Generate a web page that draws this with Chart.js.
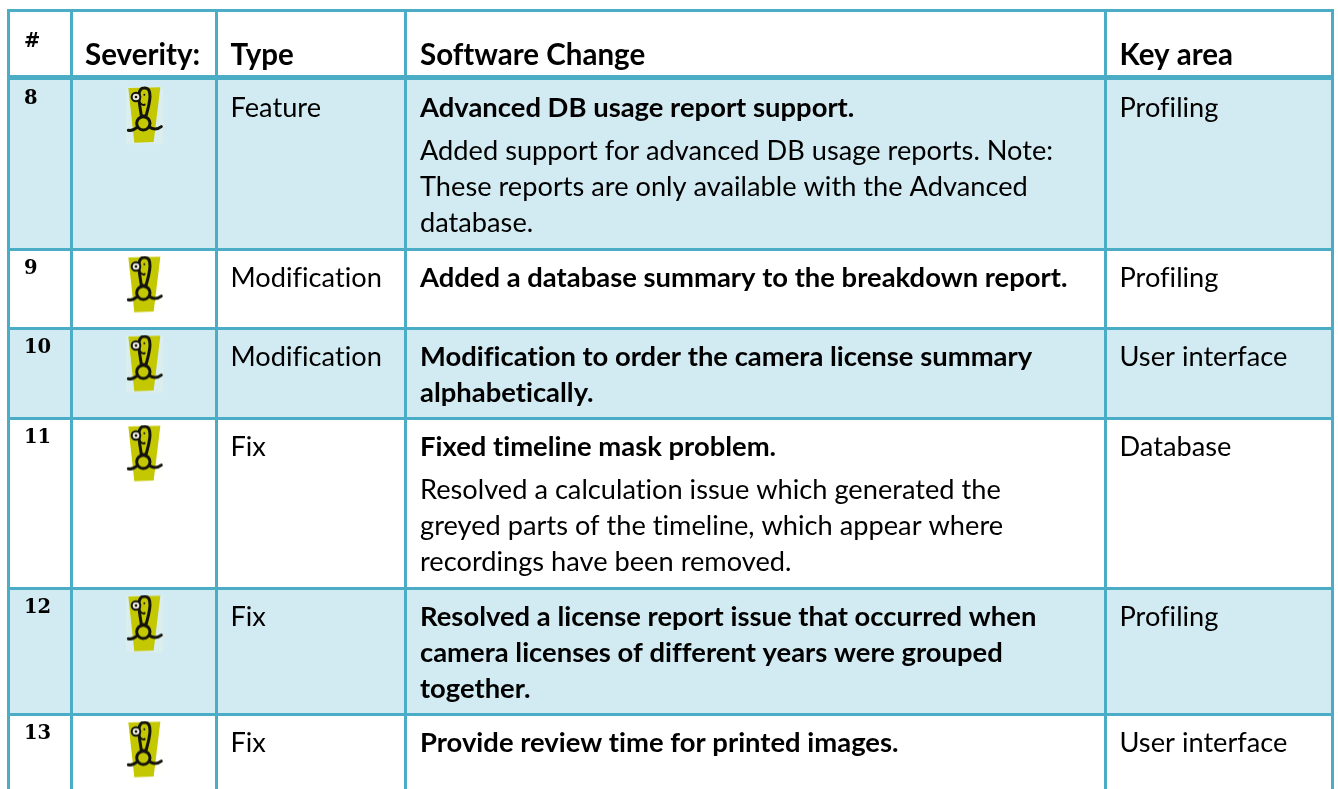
<!DOCTYPE html>
<html lang="en">
<head>
  <meta charset="UTF-8" />
  <title>Software changes</title>
  <script src="https://cdn.jsdelivr.net/npm/chart.js"></script>
  <style>
    body { margin: 0; background: #fff; }
    canvas { display: block; }
  </style>
</head>
<body>
  <canvas id="chart" width="1338" height="789"></canvas>
  <script>
    // table content
    const headers = ['#', 'Severity:', 'Type', 'Software Change', 'Key area'];
    const rowNumbers = ['8', '9', '10', '11', '12', '13'];
    const rowTypes = ['Feature', 'Modification', 'Modification', 'Fix', 'Fix', 'Fix'];
    const rowAreas = ['Profiling', 'Profiling', 'User interface', 'Database', 'Profiling', 'User interface'];
    const rowTitles = [
      ['Advanced DB usage report support.'],
      ['Added a database summary to the breakdown report.'],
      ['Modification to order the camera license summary', 'alphabetically.'],
      ['Fixed timeline mask problem.'],
      ['Resolved a license report issue that occurred when', 'camera licenses of different years were grouped', 'together.'],
      ['Provide review time for printed images.']
    ];
    const rowNotes = [
      ['Added support for advanced DB usage reports. Note:', 'These reports are only available with the Advanced', 'database.'],
      [],
      [],
      ['Resolved a calculation issue which generated the', 'greyed parts of the timeline, which appear where', 'recordings have been removed.'],
      [],
      []
    ];

    // table geometry, in axis units (1 unit = 1px)
    const columnEdges = [8.5, 71.5, 216.5, 405.5, 1105.5, 1332.5];
    const rowEdges = [10.5, 77.5, 249.5, 328.5, 418.5, 588.5, 714.5];
    const X_MIN = 7, X_MAX = 1334, Y_MIN = 9, Y_MAX = 789;
    const HEADER_RULE = 77.5;
    const TEXT_X = [24, 85, 230.5, 420, 1119.5];

    const LINE = '#4bacc6';
    const BAND = '#d2eaf1';
    const SANS = '27.2px Lato';
    const SANS_BOLD = 'bold 27.4px Lato';
    const HEAD_BOLD = 'bold 29.5px Lato';
    const SERIF_BOLD = 'bold 19.5px "DejaVu Serif"';

    // the little severity figure, painted once and used as a point style
    function makeIcon() {
      const c = document.createElement('canvas');
      c.width = 40; c.height = 60;
      const g = c.getContext('2d');
      g.filter = 'blur(0.4px)';
      g.scale(1 / 3, 1 / 3);
      g.translate(-375, -262);
      g.fillStyle = 'rgba(255,255,235,0.2)';
      g.fillRect(378, 265, 112, 172);
      g.fillStyle = '#c4c800';
      g.beginPath();
      g.moveTo(385, 268); g.lineTo(481, 266); g.lineTo(461, 430); g.lineTo(403, 432);
      g.closePath(); g.fill();
      g.strokeStyle = '#14140a';
      g.lineWidth = 9;
      g.lineCap = 'round';
      g.beginPath();
      g.moveTo(424, 352);
      g.bezierCurveTo(420, 320, 406, 268, 432, 268);
      g.bezierCurveTo(460, 266, 450, 310, 438, 352);
      g.closePath(); g.stroke();
      g.beginPath(); g.arc(430, 374, 20, 0, Math.PI * 2); g.stroke();
      g.beginPath();
      g.moveTo(412, 385); g.quadraticCurveTo(398, 398, 385, 395);
      g.moveTo(448, 385); g.quadraticCurveTo(466, 398, 484, 384);
      g.stroke();
      g.lineWidth = 6;
      g.beginPath();
      g.moveTo(419, 312); g.quadraticCurveTo(428, 322, 434, 318);
      g.stroke();
      g.fillStyle = '#e8e8e0';
      g.beginPath(); g.arc(408, 295, 13, 0, Math.PI * 2); g.fill(); g.stroke();
      g.fillStyle = '#14140a';
      g.beginPath(); g.arc(408, 295, 4, 0, Math.PI * 2); g.fill();
      g.beginPath(); g.arc(433, 288, 3, 0, Math.PI * 2); g.fill();
      return c;
    }

    // first row sits a bit lower because of the thicker rule above it
    const rowTop = i => rowEdges[i + 1] + (i === 0 ? 2.5 : 0);

    const bandDatasets = rowNumbers.map((n, i) => i).filter(i => i % 2 === 0).map(i => ({
      type: 'bar',
      grouped: false,
      order: 1,
      backgroundColor: BAND,
      borderWidth: 0,
      barThickness: rowEdges[i + 2] - rowEdges[i + 1],
      data: [{
        x: [columnEdges[0], columnEdges[columnEdges.length - 1]],
        y: (rowEdges[i + 1] + (rowEdges[i + 2] || Y_MAX)) / 2
      }]
    }));

    const iconDataset = {
      type: 'scatter',
      indexAxis: 'x',
      order: 0,
      showLine: false,
      pointStyle: makeIcon(),
      data: rowNumbers.map((n, i) => ({ x: 145, y: rowTop(i) + 36 }))
    };

    const tableText = {
      id: 'tableText',
      afterDraw(chart) {
        const { ctx, scales: { x, y } } = chart;
        const put = (str, col, base, font) => {
          ctx.font = font;
          ctx.fillText(str, x.getPixelForValue(TEXT_X[col]), y.getPixelForValue(base));
        };
        ctx.save();
        ctx.fillStyle = '#000';
        ctx.textBaseline = 'alphabetic';
        ctx.textAlign = 'left';
        ctx.letterSpacing = '0.01px'; // keeps Lato from using its ti/fi ligatures

        headers.forEach((h, col) => {
          if (col === 0) put(h, col, 46.5, SERIF_BOLD);
          else put(h, col, 65, HEAD_BOLD);
        });

        rowNumbers.forEach((n, i) => {
          const top = rowTop(i);
          const base = top + 37;
          put(n, 0, top + 24, SERIF_BOLD);
          put(rowTypes[i], 2, base, SANS);
          put(rowAreas[i], 4, base, SANS);
          rowTitles[i].forEach((line, k) => put(line, 3, base + k * 36, SANS_BOLD));
          rowNotes[i].forEach((line, k) => put(line, 3, base + 43 + k * 36, SANS));
        });
        ctx.restore();
      }
    };

    new Chart(document.getElementById('chart'), {
      type: 'bar',
      data: { datasets: [...bandDatasets, iconDataset] },
      plugins: [tableText],
      options: {
        indexAxis: 'y',
        responsive: false,
        animation: false,
        layout: { autoPadding: false, padding: { left: X_MIN, right: 1338 - X_MAX, top: Y_MIN, bottom: 789 - Y_MAX } },
        plugins: { legend: { display: false }, tooltip: { enabled: false } },
        scales: {
          x: {
            type: 'linear', min: X_MIN, max: X_MAX,
            afterBuildTicks: s => { s.ticks = columnEdges.map(value => ({ value })); },
            ticks: { display: false, autoSkip: false },
            border: { display: false },
            grid: { color: LINE, lineWidth: 3, drawTicks: false, z: 1 }
          },
          y: {
            type: 'linear', min: Y_MIN, max: Y_MAX,
            reverse: true,
            offset: false,
            afterBuildTicks: s => { s.ticks = rowEdges.map(value => ({ value })); },
            ticks: { display: false, autoSkip: false },
            border: { display: false },
            grid: {
              offset: false,
              color: LINE,
              lineWidth: c => (c.tick && c.tick.value === HEADER_RULE ? 5 : 3),
              drawTicks: false,
              z: 1
            }
          }
        }
      }
    });
  </script>
</body>
</html>
